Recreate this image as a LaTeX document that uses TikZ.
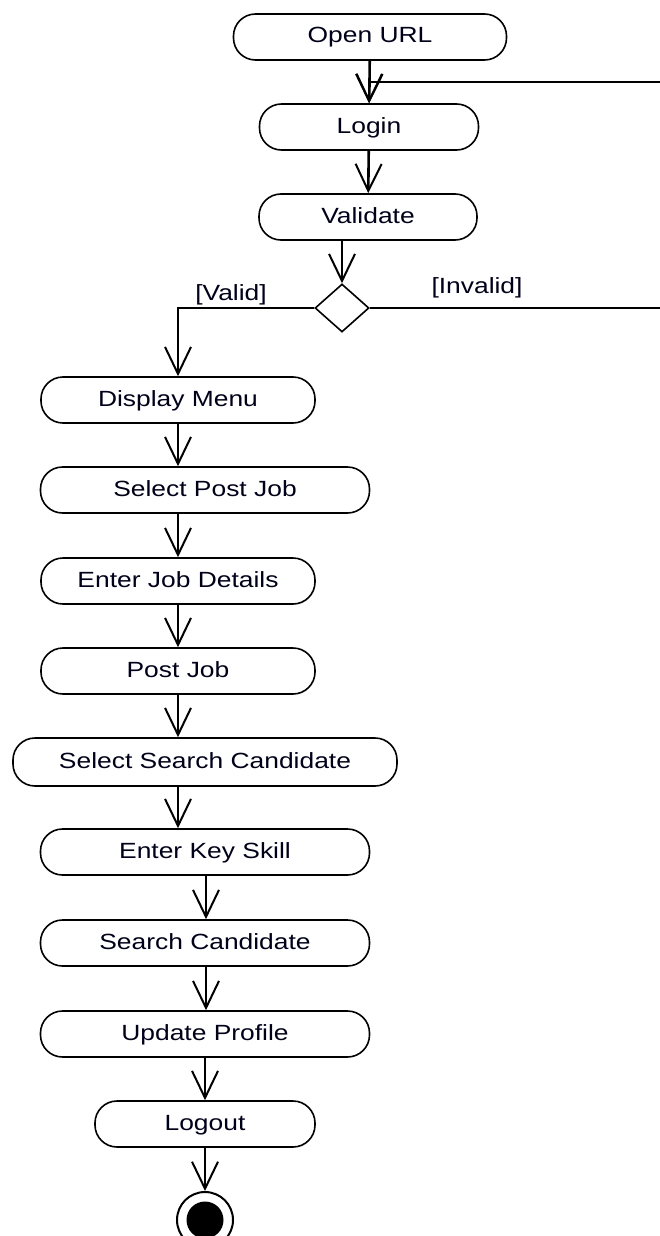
\documentclass[tikz,border=0pt]{standalone}
\usepackage{fontspec}
\setmainfont{Liberation Sans}[FakeStretch=1.2]
\usetikzlibrary{arrows.meta,shapes.geometric}

\tikzset{
  txt/.style={font=\fontsize{22pt}{26pt}\selectfont, text=black!90!blue},
  act/.style={txt, draw, line width=1.6pt, rounded corners=22pt,
              minimum height=46pt, inner sep=0pt, text height=16pt, text depth=4pt},
  decision/.style={draw, diamond, line width=1.6pt, minimum width=54pt,
              minimum height=48pt, inner sep=0pt},
  finalnode/.style={draw, circle, line width=2pt, minimum size=56pt, inner sep=0pt,
              path picture={\fill (path picture bounding box.center) circle (18.5pt);}},
  flow/.style={line width=2.6pt,
              -{Straight Barb[length=27pt,width=26pt,line width=2pt]}},
  lbl/.style={txt, inner sep=0pt, text height=16pt, text depth=4pt}
}

\begin{document}
\begin{tikzpicture}[x=1pt,y=-1pt]
  \useasboundingbox (0,0) rectangle (659,1236);

  % activities
  \node[act, minimum width=273pt] (open)     at (370,37)   {Open URL};
  \node[act, minimum width=219pt] (login)    at (369,127)  {Login};
  \node[act, minimum width=218pt] (validate) at (368,217)  {Validate};
  \node[decision]                 (dec)      at (342,308)  {};
  \node[act, minimum width=274pt] (display)  at (178,400)  {Display Menu};
  \node[act, minimum width=329pt] (selpost)  at (205,490)  {Select Post Job};
  \node[act, minimum width=274pt] (jobdet)   at (178,581)  {Enter Job Details};
  \node[act, minimum width=274pt] (post)     at (178,671)  {Post Job};
  \node[act, minimum width=384pt, minimum height=48pt] (selsearch) at (205,762) {Select Search Candidate};
  \node[act, minimum width=329pt] (keyskill) at (205,852)  {Enter Key Skill};
  \node[act, minimum width=329pt] (search)   at (205,943)  {Search Candidate};
  \node[act, minimum width=329pt] (update)   at (205,1034) {Update Profile};
  \node[act, minimum width=220pt] (logout)   at (205,1124) {Logout};
  \node[finalnode]                (final)    at (205,1220) {};

  % guards
  \node[lbl] (gvalid)   at (231,294) {[Valid]};
  \node[lbl] (ginvalid) at (477,287) {[Invalid]};

  % loop-back route for invalid credentials (runs off the right edge)
  \coordinate (back) at (666,82);

  % control flow
  \draw[flow] (open) -- (login);
  \draw[flow] (login) -- (validate);
  \draw[flow] (dec.north |- validate.south) -- (dec.north);
  \draw[flow] (dec.west) -| (display.north);
  \draw[flow, line width=1.6pt] (dec.east) -- (dec.east -| back) -- (back)
        -- (login.north |- back) -- (login.north);
  \draw[flow] (display.south) -- (display.south |- selpost.north);
  \draw[flow] (display.south |- selpost.south) -- (jobdet.north);
  \draw[flow] (jobdet.south) -- (post.north);
  \draw[flow] (post.south) -- (post.south |- selsearch.north);
  \draw[flow] (post.south |- selsearch.south) -- (post.south |- keyskill.north);
  \draw[flow] ([xshift=1pt]keyskill.south) -- ([xshift=1pt]search.north);
  \draw[flow] ([xshift=1pt]search.south) -- ([xshift=1pt]update.north);
  \draw[flow] (update.south) -- (logout.north);
  \draw[flow] (logout.south) -- (final.north);
\end{tikzpicture}
\end{document}
